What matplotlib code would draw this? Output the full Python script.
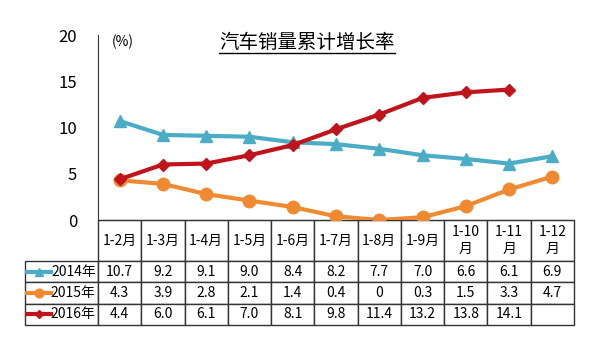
import numpy as np
import matplotlib.pyplot as plt
from matplotlib.lines import Line2D

plt.rcParams['font.family'] = ['Noto Sans CJK SC', 'DejaVu Sans']

periods = ['1-2月', '1-3月', '1-4月', '1-5月', '1-6月', '1-7月', '1-8月',
           '1-9月', '1-10\n月', '1-11\n月', '1-12\n月']
years = ['2014年', '2015年', '2016年']
v2014 = [10.7, 9.2, 9.1, 9.0, 8.4, 8.2, 7.7, 7.0, 6.6, 6.1, 6.9]
v2015 = [4.3, 3.9, 2.8, 2.1, 1.4, 0.4, 0, 0.3, 1.5, 3.3, 4.7]
v2016 = [4.4, 6.0, 6.1, 7.0, 8.1, 9.8, 11.4, 13.2, 13.8, 14.1]

series = [v2014, v2015, v2016]
colors = ['#4bacc6', '#f08a32', '#c0141c']
markers = ['^', 'o', 'D']
msizes = [8, 9, 6]

W, H = 600, 354
fig = plt.figure(figsize=(W / 100, H / 100), dpi=100)
ax_l, ax_b, ax_w, ax_h = 98, 220, 476, 185
ax = fig.add_axes([ax_l / W, 1 - ax_b / H, ax_w / W, ax_h / H])

x = np.arange(len(periods))
for vals, c, m, ms in zip(series, colors, markers, msizes):
    ax.plot(x[:len(vals)], vals, color=c, lw=3, marker=m, ms=ms, mfc=c, mec=c, zorder=3)

ax.set_xlim(-0.5, len(periods) - 0.5)
ax.set_ylim(0, 20)
ax.set_yticks([0, 5, 10, 15, 20])
ax.set_xticks([])
ax.tick_params(axis='y', length=0, pad=15, labelsize=12)
for s in ['top', 'right']:
    ax.spines[s].set_visible(False)
ax.spines['left'].set_color('#333333')
ax.spines['bottom'].set_color('#333333')

# table under the chart (first column holds the year labels)
def fmt(v):
    return '0' if v == 0 else f'{v:.1f}'

cell_text = [[y] + [fmt(v) for v in vals] + [''] * (len(periods) - len(vals))
             for y, vals in zip(years, series)]
lab_w = 73
col_w = ax_w / len(periods)
hdr_h, row_h = 41, 21.3
tab_h = hdr_h + 3 * row_h
tbl = ax.table(cellText=cell_text, colLabels=[''] + periods, cellLoc='center',
               colWidths=[lab_w] + [col_w] * len(periods),
               bbox=[-lab_w / ax_w, -tab_h / ax_h, 1 + lab_w / ax_w, tab_h / ax_h])
tbl.auto_set_font_size(False)
tbl.set_fontsize(10)
for (r, c), cell in tbl.get_celld().items():
    cell.set_edgecolor('#333333')
    cell.set_linewidth(1)
    cell.set_height(hdr_h if r == 0 else row_h)
    if r == 0 and c == 0:
        cell.visible_edges = ''
    if c == 0:
        cell.get_text().set_ha('right')
        cell.PAD = 0.03

# legend keys inside the year label cells
for i, (c, m, ms) in enumerate(zip(colors, markers, msizes)):
    yy = -(hdr_h + (i + 0.5) * row_h) / ax_h
    x0, x1 = (27 - ax_l) / ax_w, (51 - ax_l) / ax_w
    ax.add_line(Line2D([x0, x1], [yy, yy], transform=ax.transAxes, color=c, lw=3,
                       clip_on=False))
    ax.add_line(Line2D([(x0 + x1) / 2], [yy], transform=ax.transAxes, color=c,
                       marker=m, ms=ms * 0.7, clip_on=False))

ax.text((112 - ax_l) / ax_w, 1 - 7 / ax_h, '(%)', transform=ax.transAxes,
        fontsize=10, ha='left', va='center')

title = fig.text(307 / W, 1 - 43 / H, '汽车销量累计增长率', ha='center', va='center',
                 fontsize=14)
fig.canvas.draw()
bb = title.get_window_extent()
uy = bb.y0 + 1
fig.add_artist(Line2D([bb.x0 / W, bb.x1 / W], [uy / H, uy / H], color='black', lw=1))

fig.savefig('out.png', dpi=100)
